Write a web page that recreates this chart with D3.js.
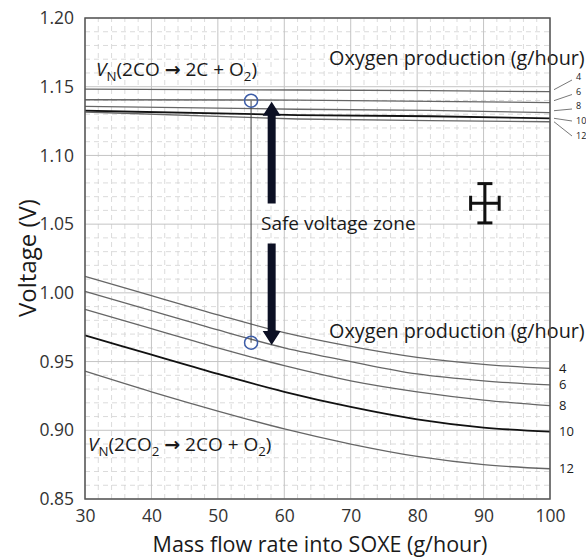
<!DOCTYPE html>
<html><head><meta charset="utf-8">
<script src="https://cdn.jsdelivr.net/npm/d3@7"></script>
<style>
body{margin:0;background:#fff;}
svg{display:block;font-family:"Open Sans",sans-serif;}
</style></head>
<body><svg id="c" width="586" height="558"></svg>
<script>
// ---- data ----
const xTicks = [30, 40, 50, 60, 70, 80, 90, 100];
const yTicks = [0.85, 0.90, 0.95, 1.00, 1.05, 1.10, 1.15, 1.20];
const oxygenRates = [4, 6, 8, 10, 12];
// upper family: V_N(2CO -> 2C + O2)
const upperX = [30, 62, 82, 100];
const upper4  = [1.1483, 1.1476, 1.1471, 1.1464];
const upper6  = [1.1405, 1.1403, 1.1394, 1.1384];
const upper8  = [1.1357, 1.1336, 1.1328, 1.1311];
const upper10 = [1.1325, 1.1294, 1.1285, 1.1270];
const upper12 = [1.1316, 1.1265, 1.1253, 1.1245];
// lower family: V_N(2CO2 -> 2CO + O2)
const lowerX = [30, 40, 50, 60, 70, 80, 90, 100];
const lower4  = [1.012, 0.998, 0.984, 0.971, 0.961, 0.953, 0.948, 0.945];
const lower6  = [1.001, 0.987, 0.973, 0.960, 0.950, 0.941, 0.936, 0.933];
const lower8  = [0.988, 0.974, 0.960, 0.947, 0.936, 0.928, 0.922, 0.918];
const lower10 = [0.969, 0.955, 0.941, 0.928, 0.917, 0.908, 0.902, 0.899];
const lower12 = [0.943, 0.928, 0.914, 0.901, 0.890, 0.881, 0.875, 0.872];
// markers
const operatingFlow = 55;
const circleVoltages = [1.1398, 0.9637];
const arrowFlow = 58.1;
const arrowTop = [1.139, 1.065];     // tip, tail
const arrowBottom = [1.036, 0.962];  // tail, tip
const errCenter = [90.2, 1.0652];
const errX = 2.15, errY = 0.0143;

const upperSeries = [upper4, upper6, upper8, upper10, upper12];
const lowerSeries = [lower4, lower6, lower8, lower10, lower12];

// ---- layout ----
const svg = d3.select("#c");
const m = {l:85, t:18, r:36, b:59};
const W = 586, H = 558;
const x = d3.scaleLinear().domain([30,100]).range([m.l, W-m.r]);
const y = d3.scaleLinear().domain([0.85,1.20]).range([H-m.b, m.t]);
const fmt = d3.format(".2f");

// minor grid
const g = svg.append("g");
const minorX = d3.range(30, 100.01, 2).filter(v => v % 10 !== 0);
const minorY = d3.range(85, 120.01, 1).map(v => v/100).filter(v => Math.round(v*100) % 5 !== 0);
g.selectAll(".mx").data(minorX).enter().append("line")
  .attr("x1", d=>x(d)).attr("x2", d=>x(d)).attr("y1", y(0.85)).attr("y2", y(1.20))
  .attr("stroke", "#d2d2d2").attr("stroke-width", 0.8).attr("stroke-dasharray", "5,4");
g.selectAll(".my").data(minorY).enter().append("line")
  .attr("y1", d=>y(d)).attr("y2", d=>y(d)).attr("x1", x(30)).attr("x2", x(100))
  .attr("stroke", "#d2d2d2").attr("stroke-width", 0.8).attr("stroke-dasharray", "5,4");
// major grid
g.selectAll(".Mx").data(xTicks).enter().append("line")
  .attr("x1", d=>x(d)).attr("x2", d=>x(d)).attr("y1", y(0.85)).attr("y2", y(1.20))
  .attr("stroke", "#c4c4c4").attr("stroke-width", 1);
g.selectAll(".My").data(yTicks).enter().append("line")
  .attr("y1", d=>y(d)).attr("y2", d=>y(d)).attr("x1", x(30)).attr("x2", x(100))
  .attr("stroke", "#c4c4c4").attr("stroke-width", 1);

// curves
const lineU = d3.line().x((d,i)=>x(upperX[i])).y(d=>y(d));
const lineL = d3.line().x((d,i)=>x(lowerX[i])).y(d=>y(d)).curve(d3.curveMonotoneX);
upperSeries.forEach((s,i)=>{
  svg.append("path").attr("d", lineU(s)).attr("fill","none")
    .attr("stroke", i===3 ? "#111" : "#666").attr("stroke-width", i===3 ? 1.8 : 1.3);
});
lowerSeries.forEach((s,i)=>{
  svg.append("path").attr("d", lineL(s)).attr("fill","none")
    .attr("stroke", i===3 ? "#111" : "#666").attr("stroke-width", i===3 ? 1.8 : 1.3);
});

// axes (labels only) + frame
const xAxis = d3.axisBottom(x).tickValues(xTicks).tickSize(0).tickPadding(9);
const yAxis = d3.axisLeft(y).tickValues(yTicks).tickFormat(fmt).tickSize(0).tickPadding(11);
const gx = svg.append("g").attr("transform", `translate(0,${y(0.85)})`).call(xAxis);
const gy = svg.append("g").attr("transform", `translate(${x(30)},0)`).call(yAxis);
[gx, gy].forEach(a => {
  a.select(".domain").remove();
  a.selectAll("text").attr("font-size", 17.5).attr("fill", "#333").attr("font-family", "Open Sans");
});
gx.selectAll("text").attr("dy", "0.8em");

// vertical connector and circles
svg.append("line").attr("x1", x(operatingFlow)).attr("x2", x(operatingFlow))
  .attr("y1", y(circleVoltages[0])).attr("y2", y(circleVoltages[1]))
  .attr("stroke", "#444").attr("stroke-width", 1);
svg.selectAll(".circ").data(circleVoltages).enter().append("circle")
  .attr("cx", x(operatingFlow)).attr("cy", d=>y(d)).attr("r", 6.5)
  .attr("fill", "none").attr("stroke", "#3d5da8").attr("stroke-width", 1.5);

// arrows
const ax = x(arrowFlow), sw = 4, hw = 9, hh = 14;
const arrowCol = "#0c1024";
svg.append("path").attr("fill", arrowCol).attr("d", (() => {
  const tip = y(arrowTop[0]), tail = y(arrowTop[1]);
  return `M${ax},${tip} L${ax+hw},${tip+hh} L${ax+sw},${tip+hh} L${ax+sw},${tail} L${ax-sw},${tail} L${ax-sw},${tip+hh} L${ax-hw},${tip+hh} Z`;
})());
svg.append("path").attr("fill", arrowCol).attr("d", (() => {
  const tail = y(arrowBottom[0]), tip = y(arrowBottom[1]);
  return `M${ax},${tip} L${ax+hw},${tip-hh} L${ax+sw},${tip-hh} L${ax+sw},${tail} L${ax-sw},${tail} L${ax-sw},${tip-hh} L${ax-hw},${tip-hh} Z`;
})());

// error cross
const ec = svg.append("g").attr("stroke", "#111").attr("stroke-width", 3).attr("stroke-linecap","butt");
const ex = x(errCenter[0]), ey = y(errCenter[1]);
ec.append("line").attr("x1", ex).attr("x2", ex).attr("y1", y(errCenter[1]+errY)).attr("y2", y(errCenter[1]-errY));
ec.append("line").attr("x1", ex-7.5).attr("x2", ex+7.5).attr("y1", y(errCenter[1]+errY)).attr("y2", y(errCenter[1]+errY));
ec.append("line").attr("x1", ex-7.5).attr("x2", ex+7.5).attr("y1", y(errCenter[1]-errY)).attr("y2", y(errCenter[1]-errY));
ec.append("line").attr("x1", x(errCenter[0]-errX)).attr("x2", x(errCenter[0]+errX)).attr("y1", ey).attr("y2", ey);
ec.append("line").attr("x1", x(errCenter[0]-errX)).attr("x2", x(errCenter[0]-errX)).attr("y1", ey-7.5).attr("y2", ey+7.5);
ec.append("line").attr("x1", x(errCenter[0]+errX)).attr("x2", x(errCenter[0]+errX)).attr("y1", ey-7.5).attr("y2", ey+7.5);

// texts
const txt = (tx, ty, s, size, anchor) => svg.append("text").attr("x", tx).attr("y", ty)
  .attr("font-size", size).attr("fill", "#1a1a1a").attr("text-anchor", anchor || "start").text(s);

txt(261, 230, "Safe voltage zone", 19);
txt(329, 65, "Oxygen production (g/hour)", 19.8);
txt(329, 338, "Oxygen production (g/hour)", 19.8);

// equations
function eq(tx, ty, parts, size) {
  const t = svg.append("text").attr("x", tx).attr("y", ty).attr("font-size", size).attr("fill", "#1a1a1a");
  parts.forEach(p => {
    const ts = t.append("tspan").text(p.t);
    if (p.i) ts.attr("font-style", "italic");
    if (p.sub) ts.attr("font-size", size*0.7).attr("dy", 5);
    if (p.up) ts.attr("dy", -5);
    if (p.b) ts.attr("font-weight", 700).attr("font-family", "DejaVu Sans");
  });
}
eq(96, 76, [{t:"V", i:true},{t:"N", sub:true},{t:"(2CO ", up:true},{t:"\u2192", b:true},{t:" 2C + O"},{t:"2", sub:true},{t:")", up:true}], 19);
eq(88, 451, [{t:"V", i:true},{t:"N", sub:true},{t:"(2CO", up:true},{t:"2", sub:true},{t:" ", up:true},{t:"\u2192", b:true},{t:" 2CO + O"},{t:"2", sub:true},{t:")", up:true}], 19);

// frame
svg.append("rect").attr("x", x(30)).attr("y", y(1.20)).attr("width", x(100)-x(30)).attr("height", y(0.85)-y(1.20))
  .attr("fill", "none").attr("stroke", "#555").attr("stroke-width", 1.5);

// right labels lower family
oxygenRates.forEach((r,i)=>{
  const s = lowerSeries[i];
  txt(559, y(s[s.length-1]) + 4.5, String(r), 13);
});
// right labels upper family with leaders
const upLabelY = [77, 91.5, 106, 121, 136];
oxygenRates.forEach((r,i)=>{
  const s = upperSeries[i];
  svg.append("line").attr("x1", x(100)+4).attr("y1", y(s[s.length-1]) - (i<3 ? 2 : 0))
    .attr("x2", 572).attr("y2", upLabelY[i] + (i<3 ? 3 : 0))
    .attr("stroke", "#555").attr("stroke-width", 0.8);
  txt(576, upLabelY[i] + 3, String(r), 9);
});

// axis titles
svg.append("text").attr("x", 320).attr("y", 552).attr("text-anchor", "middle")
  .attr("font-size", 21.5).attr("fill", "#1a1a1a").text("Mass flow rate into SOXE (g/hour)");
svg.append("text").attr("transform", "translate(36,258) rotate(-90)").attr("text-anchor", "middle")
  .attr("font-size", 24).attr("fill", "#1a1a1a").text("Voltage (V)");
</script></body></html>
